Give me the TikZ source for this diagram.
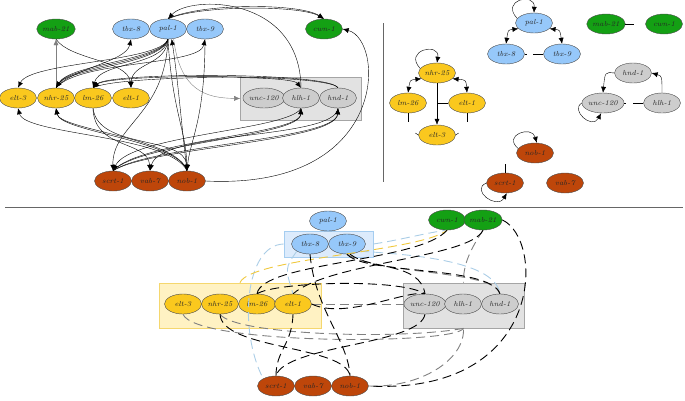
\documentclass[tikz,border=0pt]{standalone}
\usetikzlibrary{shapes.geometric,arrows.meta}
\definecolor{gGreen}{RGB}{20,160,20}
\definecolor{gBlue}{RGB}{150,200,250}
\definecolor{gYellow}{RGB}{250,200,30}
\definecolor{gBrown}{RGB}{190,70,10}
\definecolor{gGrey}{RGB}{205,205,205}
\definecolor{bxGrey}{RGB}{226,226,226}
\definecolor{bxGreyEdge}{RGB}{165,165,165}
\definecolor{bxYellow}{RGB}{255,242,195}
\definecolor{bxYellowEdge}{RGB}{245,215,110}
\definecolor{bxBlue}{RGB}{220,235,252}
\definecolor{bxBlueEdge}{RGB}{165,205,240}
\definecolor{lBlue}{RGB}{170,205,230}
\definecolor{lYellow}{RGB}{240,200,60}

\begin{document}
\begin{tikzpicture}[x=1pt,y=-1pt,>={Latex[length=6pt,width=5pt]},
  gene/.style={ellipse,draw=black!70,line width=0.4pt,minimum width=37pt,minimum height=20pt,
    inner sep=0pt,font=\fontsize{7.3}{8}\selectfont\itshape,text=black!85},
  grn/.style={gene,fill=gGreen}, blu/.style={gene,fill=gBlue},
  ylw/.style={gene,fill=gYellow}, brn/.style={gene,fill=gBrown}, gry/.style={gene,fill=gGrey},
  grp/.style={draw,line width=0.7pt,inner sep=0pt},
  dsh/.style={line width=0.9pt,dash pattern=on 9pt off 5pt}]
  \useasboundingbox (0,0) rectangle (685,400);

  % left upper graph
  \node[grp,fill=bxGrey,draw=bxGreyEdge,minimum width=121pt,minimum height=43pt] (abox) at (301,98.5) {};
  \node[grn] (amab) at (56,29) {mab-21};
  \node[blu] (atbx8) at (131,29) {tbx-8};
  \node[blu] (apal) at (168,29) {pal-1};
  \node[blu] (atbx9) at (205,29) {tbx-9};
  \node[grn] (acwn) at (324,29) {cwn-1};
  \node[ylw] (aelt3) at (18,98) {elt-3};
  \node[ylw] (anhr) at (56,98) {nhr-25};
  \node[ylw] (alin) at (93,98) {lm-26};
  \node[ylw] (aelt1) at (131,98) {elt-1};
  \node[gry] (aunc) at (264,98) {unc-120};
  \node[gry] (ahlh) at (301,98) {hlh-1};
  \node[gry] (ahnd) at (338,98) {hnd-1};
  \node[brn] (ascrt) at (113,181) {scrt-1};
  \node[brn] (avab) at (150,181) {vab-7};
  \node[brn] (anob) at (187,181) {nob-1};

  \draw[->,gray] (anhr.north) -- (amab.south);
  \draw[->] (amab.south) .. controls (70,60) and (128,60) .. (aelt1.north);
  \draw[->] (anhr.north) .. controls (72,68) and (126,62) .. (atbx8.south);
  \draw[->] (apal.south) .. controls (160,62) and (30,62) .. (aelt3.north);
  \foreach \d in {0,2,4}
    \draw[->] (apal.south) .. controls (162,60+\d) and (70,64+\d) .. (anhr.north);
  \draw[->] (apal.south) .. controls (164,66) and (100,62) .. (alin.north);
  \draw[->] (apal.south) .. controls (166,66) and (132,62) .. (aelt1.north);
  \draw[->] (anhr.north) .. controls (80,60) and (200,66) .. (atbx9.south);
  \draw[->] (apal.south) .. controls (165,115) and (112,125) .. (ascrt.north);
  \draw[->] (apal.south) .. controls (172,110) and (186,130) .. (anob.north);
  \draw[->] (anob.north) .. controls (182,130) and (178,80) .. (apal.-70);
  \draw[->] (atbx9.south) .. controls (205,120) and (190,140) .. (anob.north);
  \draw[->,gray] (apal.-60) .. controls (180,90) and (205,98) .. (abox.west);
  \draw[->] (ahlh.north) .. controls (300,-5) and (190,-5) .. (apal.north);
  \foreach \d in {0,2}
    \draw[->] (apal.north) .. controls (200,3+\d) and (300,3+\d) .. (acwn.north);
  \draw[->] (anob.east) .. controls (390,190) and (385,40) .. (acwn.east);
  \foreach \d in {0,1.5}
    \draw[->] (ahnd.north) .. controls (330,72+\d) and (110,72+\d) .. (alin.north);
  \draw[->] (alin.north) .. controls (115,76) and (290,74) .. (ahlh.north);
  \foreach \d in {0,2} {
    \draw[->] (ascrt.north) .. controls (140,140+\d) and (300,135+\d) .. (ahlh.south);
    \draw[->] (ascrt.north) .. controls (150,145+\d) and (336,140+\d) .. (ahnd.south);
  }
  \draw[->] (ahlh.south) .. controls (290,130) and (130,135) .. (ascrt.north);
  \draw[->] (anob.north) .. controls (170,135) and (25,135) .. (aelt3.south);
  \foreach \d in {0,2}
    \draw[->] (anob.north) .. controls (178,138+\d) and (60,130+\d) .. (anhr.south);
  \draw[->] (alin.south) .. controls (94,150) and (148,140) .. (avab.north);
  \draw[->] (alin.south) .. controls (98,150) and (185,135) .. (anob.north);
  \draw[->] (ahnd.south) .. controls (335,140) and (160,130) .. (avab.north);

  % right upper graph
  \node[blu] (bpal) at (534,23) {pal-1};
  \node[blu] (btbx8) at (506,54) {tbx-8};
  \node[blu] (btbx9) at (562,54) {tbx-9};
  \node[grn] (bmab) at (606,24) {mab-21};
  \node[grn] (bcwn) at (664,24) {cwn-1};
  \node[ylw] (bnhr) at (437,73) {nhr-25};
  \node[ylw] (blin) at (408,103) {lm-26};
  \node[ylw] (belt1) at (467,103) {elt-1};
  \node[ylw] (belt3) at (437,135) {elt-3};
  \node[gry] (bhnd) at (633,73) {hnd-1};
  \node[gry] (bunc) at (603,103) {unc-120};
  \node[gry] (bhlh) at (662,103) {hlh-1};
  \node[brn] (bnob) at (535,153) {nob-1};
  \node[brn] (bscrt) at (505,183) {scrt-1};
  \node[brn] (bvab) at (565,183) {vab-7};

  \draw[->] (bpal.165) .. controls (500,0) and (535,-8) .. (bpal.north);
  \draw[<->] (bpal.200) .. controls (508,30) .. (btbx8.north);
  \draw[<->] (bpal.-20) .. controls (560,30) .. (btbx9.north);
  \draw (btbx9.west) -- ++(-10,0);
  \draw (btbx8.east) -- ++(2,0);
  \draw (bmab.east) -- ++(9,0);
  \draw[->] (bnhr.165) .. controls (403,50) and (440,42) .. (bnhr.north);
  \draw[<->] (bnhr.200) .. controls (410,80) .. (blin.north);
  \draw[<->] (bnhr.-20) .. controls (466,80) .. (belt1.north);
  \draw[->] (bnhr.south) -- (belt3.north);
  \draw (belt1.west) -- (belt1.west -| bnhr.south);
  \draw (blin.south) -- ++(0,9);
  \draw (belt1.south) -- ++(0,9);
  \draw (belt3.west) -- ++(-3,-2);
  \draw (belt3.east) -- ++(3,-2);
  \draw[->] (bhnd.west) .. controls (605,72) .. (bunc.north);
  \draw[->] (bhlh.north) .. controls (662,76) .. (bhnd.east);
  \draw[->] (bunc.west) .. controls (570,110) and (592,130) .. (bunc.-100);
  \draw (bhlh.west) -- ++(-10,0);
  \draw (bunc.east) -- ++(2,0);
  \draw[->] (bnob.165) .. controls (502,135) and (532,125) .. (bnob.80);
  \draw (bscrt.north) -- ++(0,-9);
  \draw[->] (bscrt.west) .. controls (470,190) and (497,210) .. (bscrt.-80);

  \draw[line width=1pt,black!60] (383,23) -- (383,182);
  \draw[line width=1pt,black!60] (5,207) -- (683,207);

  % lower graph
  \node[grp,fill=bxBlue,draw=bxBlueEdge,minimum width=89pt,minimum height=26pt] (cblue) at (328.5,244) {};
  \node[grp,fill=bxYellow,draw=bxYellowEdge,minimum width=162pt,minimum height=45pt] (cyell) at (240,305.5) {};
  \node[grp,fill=bxGrey,draw=bxGreyEdge,minimum width=121pt,minimum height=45pt] (cgrey) at (463.5,305.5) {};
  \node[blu] (cpal) at (328,221) {pal-1};
  \node[blu] (ctbx8) at (310,244) {tbx-8};
  \node[blu] (ctbx9) at (347,244) {tbx-9};
  \node[grn] (ccwn) at (447,220) {cwn-1};
  \node[grn] (cmab) at (483,220) {mab-21};
  \node[ylw] (celt3) at (183,304) {elt-3};
  \node[ylw] (cnhr) at (220,304) {nhr-25};
  \node[ylw] (clin) at (257,304) {lm-26};
  \node[ylw] (celt1) at (293,304) {elt-1};
  \node[gry] (cunc) at (425,304) {unc-120};
  \node[gry] (chlh) at (463,304) {hlh-1};
  \node[gry] (chnd) at (500,304) {hnd-1};
  \node[brn] (cscrt) at (276,386) {scrt-1};
  \node[brn] (cvab) at (313,386) {vab-7};
  \node[brn] (cnob) at (350,386) {nob-1};

  \draw[dsh,lBlue] (cblue.west) .. controls (245,245) and (238,330) .. (cscrt.150);
  \draw[dsh,lBlue] (ctbx8.south west) .. controls (285,268) .. (celt1.north);
  \draw[dsh,lBlue] (cblue.east) .. controls (400,240) and (430,232) .. (ccwn.south);
  \draw[dsh,lBlue] (ctbx9.south east) .. controls (420,255) and (495,262) .. (chnd.north);
  \draw[dsh,lYellow] (cyell.north) .. controls (250,258) and (420,252) .. (ccwn.south);
  \draw[dsh,gray] (ctbx9.south) .. controls (380,275) and (495,270) .. (chnd.north);
  \draw[dsh,gray] (celt1.east) -- (cunc.west);
  \draw[dsh,gray] (celt3.south) .. controls (195,345) and (455,345) .. (cgrey.south);
  \draw[dsh,gray] (cnhr.south) .. controls (235,335) and (400,340) .. (cgrey.south);
  \draw[dsh,gray] (cmab.south) .. controls (470,250) and (463,265) .. (cgrey.north);
  \draw[dsh,gray] (cnob.east) .. controls (420,388) and (465,360) .. (cgrey.south);
  \draw[dsh] (ctbx8.south) .. controls (315,310) and (348,340) .. (cnob.north);
  \draw[dsh] (ctbx9.south) .. controls (365,275) and (490,265) .. (chnd.north);
  \draw[dsh] ([xshift=3pt]ctbx9.south) .. controls (370,270) and (420,262) .. (cunc.north);
  \draw[dsh] (clin.north) .. controls (262,262) and (420,262) .. (ccwn.south);
  \draw[dsh] (clin.north) .. controls (275,282) and (400,278) .. (cunc.north);
  \draw[dsh] (cmab.south) .. controls (470,258) and (330,262) .. (celt1.north);
  \draw[dsh] (celt1.south) .. controls (292,345) and (276,350) .. (cscrt.north);
  \draw[dsh] (cnhr.south) .. controls (222,350) and (345,345) .. (cnob.north);
  \draw[dsh] (cunc.south) .. controls (420,345) and (285,345) .. (cscrt.north);
  \draw[dsh] (cmab.east) .. controls (545,240) and (545,395) .. (cnob.east);
  \draw[dsh] (celt1.east) .. controls (345,320) and (405,290) .. (cunc.north);
\end{tikzpicture}
\end{document}
